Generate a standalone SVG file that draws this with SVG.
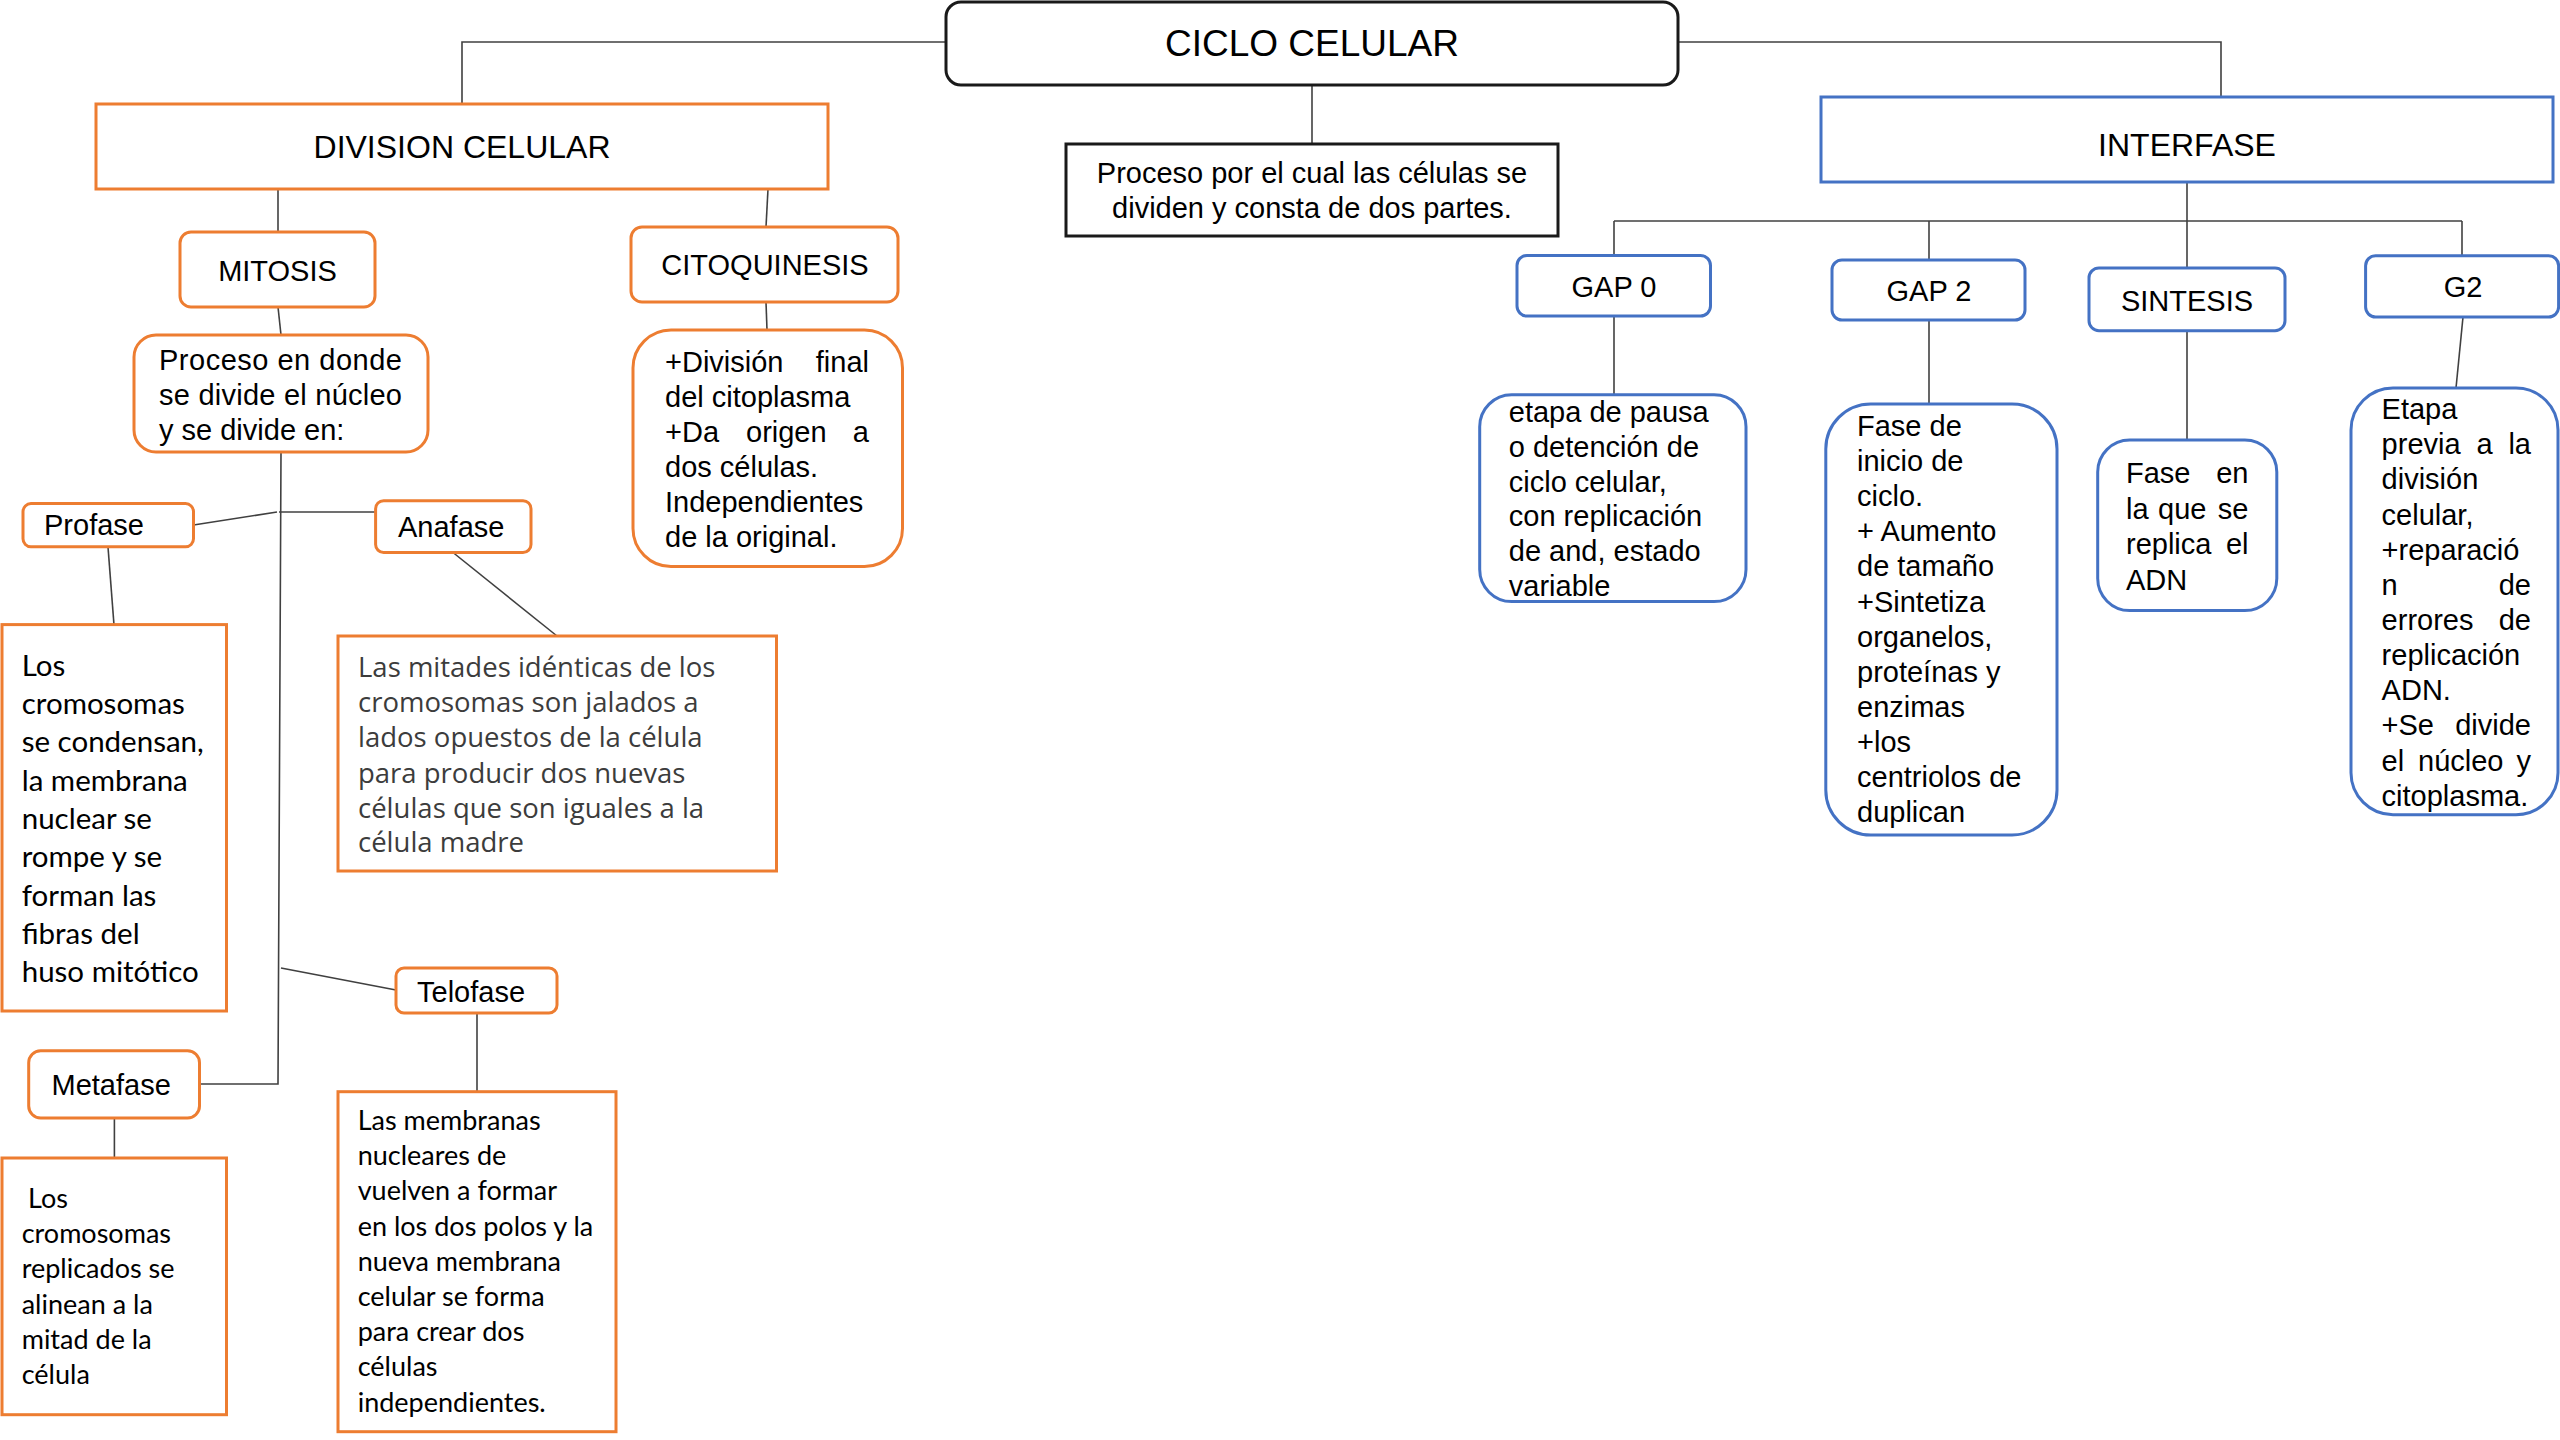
<svg xmlns="http://www.w3.org/2000/svg" width="2560" height="1440" viewBox="0 0 2560 1440">
<style>
.bg{fill:#ffffff}
.blk{fill:#fff;stroke:#1a1a1a;stroke-width:3}
.org{fill:#fff;stroke:#ED7D31;stroke-width:3}
.blu{fill:#fff;stroke:#4472C4;stroke-width:3}
.t{font-family:"Liberation Sans",Arial,sans-serif;font-size:29px;fill:#000}
.t.f37{font-size:37px}
.t.f32{font-size:32px}
.c{text-anchor:middle}
.e{text-anchor:end}
.cal{font-family:Lato,"Liberation Sans",sans-serif;fill:#000}
.seg{font-family:"Open Sans","Noto Sans",sans-serif;fill:#3c3c3c}
.ln{fill:none;stroke:#404040;stroke-width:1.6}
</style>
<rect class="bg" x="0" y="0" width="2560" height="1440"/>

<g id="connectors">
<polyline class="ln" points="462,104 462,42 946,42"/>
<polyline class="ln" points="1678,42 2221,42 2221,97"/>
<line class="ln" x1="1312" y1="85" x2="1312" y2="144"/>
<line class="ln" x1="278" y1="189" x2="278" y2="232"/>
<line class="ln" x1="768" y1="189" x2="766" y2="227"/>
<line class="ln" x1="278" y1="307" x2="281" y2="335"/>
<line class="ln" x1="766" y1="302" x2="767" y2="330"/>
<polyline class="ln" points="281,452 278,1084 199.5,1084"/>
<line class="ln" x1="279" y1="512" x2="375.6" y2="512"/>
<line class="ln" x1="193.5" y1="525" x2="277" y2="512"/>
<line class="ln" x1="108" y1="547" x2="114" y2="625"/>
<line class="ln" x1="453" y1="552.5" x2="557" y2="636"/>
<line class="ln" x1="281" y1="968" x2="396" y2="990"/>
<line class="ln" x1="477" y1="1013" x2="477" y2="1092"/>
<line class="ln" x1="114.4" y1="1118" x2="114.4" y2="1158"/>
<line class="ln" x1="2187" y1="182" x2="2187" y2="268"/>
<line class="ln" x1="1614" y1="221" x2="2462" y2="221"/>
<line class="ln" x1="1614" y1="221" x2="1614" y2="255.5"/>
<line class="ln" x1="1929" y1="221" x2="1929" y2="260"/>
<line class="ln" x1="2462" y1="221" x2="2462" y2="256"/>
<line class="ln" x1="1614" y1="316" x2="1614" y2="395"/>
<line class="ln" x1="1929" y1="320" x2="1929" y2="404"/>
<line class="ln" x1="2187" y1="331" x2="2187" y2="440"/>
<line class="ln" x1="2463" y1="317" x2="2456" y2="388"/>
</g>

<g id="ciclo-celular">
<rect class="blk" x="946" y="2" width="732" height="83" rx="15"/>
<text class="t f37 c" x="1312" y="56">CICLO CELULAR</text>
</g>

<g id="proceso-ciclo">
<rect class="blk" x="1066" y="144" width="492" height="92"/>
<text class="t c" x="1312" y="182.7">Proceso por el cual las células se</text>
<text class="t c" x="1312" y="218.3">dividen y consta de dos partes.</text>
</g>

<g id="division-celular">
<rect class="org" x="96" y="104" width="732" height="85"/>
<text class="t f32 c" x="462" y="158">DIVISION CELULAR</text>
</g>

<g id="interfase">
<rect class="blu" x="1821" y="97" width="732" height="85"/>
<text class="t f32 c" x="2187" y="156">INTERFASE</text>
</g>

<g id="mitosis">
<rect class="org" x="180" y="232" width="195" height="75" rx="11"/>
<text class="t c" x="277.5" y="281">MITOSIS</text>
</g>

<g id="citoquinesis">
<rect class="org" x="631" y="227" width="267" height="75" rx="11"/>
<text class="t c" x="765" y="275">CITOQUINESIS</text>
</g>

<g id="mitosis-desc">
<rect class="org" x="134" y="335" width="294" height="117" rx="22"/>
<text class="t" x="159" y="370" textLength="243" lengthAdjust="spacing">Proceso en donde</text>
<text class="t" x="159" y="405" textLength="243" lengthAdjust="spacing">se divide el núcleo</text>
<text class="t" x="159" y="440">y se divide en:</text>
</g>

<g id="citoquinesis-desc">
<rect class="org" x="633" y="330" width="269.5" height="236.5" rx="38"/>
<text class="t" y="371.7"><tspan x="665">+División</tspan><tspan x="869" text-anchor="end">final</tspan></text>
<text class="t" x="665" y="406.5">del citoplasma</text>
<text class="t" y="441.5"><tspan x="665">+Da</tspan><tspan x="746">origen</tspan><tspan x="869" text-anchor="end">a</tspan></text>
<text class="t" x="665" y="476.5">dos células.</text>
<text class="t" x="665" y="511.5">Independientes</text>
<text class="t" x="665" y="546.5">de la original.</text>
</g>

<g id="profase">
<rect class="org" x="23" y="503.6" width="170.5" height="43.2" rx="8"/>
<text class="t" x="44" y="535">Profase</text>
</g>

<g id="anafase">
<rect class="org" x="375.6" y="500.7" width="155.4" height="51.8" rx="8"/>
<text class="t" x="398" y="537">Anafase</text>
</g>

<g id="telofase">
<rect class="org" x="396" y="968" width="161" height="45" rx="8"/>
<text class="t" x="417" y="1002">Telofase</text>
</g>

<g id="metafase">
<rect class="org" x="28.7" y="1050.7" width="170.8" height="67.3" rx="12"/>
<text class="t" x="51.5" y="1095">Metafase</text>
</g>

<g id="profase-desc">
<rect class="org" x="2" y="624.6" width="224.5" height="386.4"/>
<g class="cal" font-size="29.5">
<text x="21.7" y="675.7">Los</text>
<text x="21.7" y="714">cromosomas</text>
<text x="21.7" y="752.3">se condensan,</text>
<text x="21.7" y="790.6">la membrana</text>
<text x="21.7" y="828.9">nuclear se</text>
<text x="21.7" y="867.2">rompe y se</text>
<text x="21.7" y="905.5">forman las</text>
<text x="21.7" y="943.8">fibras del</text>
<text x="21.7" y="982.1">huso mitótico</text>
</g>
</g>

<g id="anafase-desc">
<rect class="org" x="338" y="636" width="438.5" height="235"/>
<g class="seg" font-size="27.5">
<text x="358" y="676.7">Las mitades idénticas de los</text>
<text x="358" y="711.7">cromosomas son jalados a</text>
<text x="358" y="747">lados opuestos de la célula</text>
<text x="358" y="782.5">para producir dos nuevas</text>
<text x="358" y="817.5">células que son iguales a la</text>
<text x="358" y="852">célula madre</text>
</g>
</g>

<g id="metafase-desc">
<rect class="org" x="2" y="1158" width="224.5" height="256.7"/>
<g class="cal" font-size="27">
<text x="28" y="1208">Los</text>
<text x="21.7" y="1243.2">cromosomas</text>
<text x="21.7" y="1278.4">replicados se</text>
<text x="21.7" y="1313.6">alinean a la</text>
<text x="21.7" y="1348.8">mitad de la</text>
<text x="21.7" y="1384">célula</text>
</g>
</g>

<g id="telofase-desc">
<rect class="org" x="338" y="1091.7" width="278" height="340"/>
<g class="cal" font-size="27">
<text x="357.7" y="1130">Las membranas</text>
<text x="357.7" y="1165.2">nucleares de</text>
<text x="357.7" y="1200.4">vuelven a formar</text>
<text x="357.7" y="1235.6">en los dos polos y la</text>
<text x="357.7" y="1270.8">nueva membrana</text>
<text x="357.7" y="1306">celular se forma</text>
<text x="357.7" y="1341.2">para crear dos</text>
<text x="357.7" y="1376.4">células</text>
<text x="357.7" y="1411.6">independientes.</text>
</g>
</g>

<g id="gap0">
<rect class="blu" x="1517" y="255.5" width="193.5" height="60.5" rx="10"/>
<text class="t c" x="1614" y="296.5">GAP 0</text>
</g>

<g id="gap2">
<rect class="blu" x="1832" y="260" width="193" height="60" rx="10"/>
<text class="t c" x="1929" y="300.7">GAP 2</text>
</g>

<g id="sintesis">
<rect class="blu" x="2089" y="268" width="196" height="62.7" rx="10"/>
<text class="t c" x="2187" y="310.7">SINTESIS</text>
</g>

<g id="g2">
<rect class="blu" x="2365.6" y="255.7" width="193" height="61.3" rx="10"/>
<text class="t c" x="2463" y="296.7">G2</text>
</g>

<g id="gap0-desc">
<rect class="blu" x="1479.7" y="394.7" width="266.3" height="206.9" rx="32"/>
<text class="t" x="1508.8" y="422">etapa de pausa</text>
<text class="t" x="1508.8" y="456.8">o detención de</text>
<text class="t" x="1508.8" y="491.6">ciclo celular,</text>
<text class="t" x="1508.8" y="526.4">con replicación</text>
<text class="t" x="1508.8" y="561.2">de and, estado</text>
<text class="t" x="1508.8" y="596">variable</text>
</g>

<g id="gap2-desc">
<rect class="blu" x="1825.8" y="404" width="231.2" height="431" rx="45"/>
<text class="t" x="1857" y="436">Fase de</text>
<text class="t" x="1857" y="471.1">inicio de</text>
<text class="t" x="1857" y="506.2">ciclo.</text>
<text class="t" x="1857" y="541.3">+ Aumento</text>
<text class="t" x="1857" y="576.4">de tamaño</text>
<text class="t" x="1857" y="611.5">+Sintetiza</text>
<text class="t" x="1857" y="646.6">organelos,</text>
<text class="t" x="1857" y="681.7">proteínas y</text>
<text class="t" x="1857" y="716.8">enzimas</text>
<text class="t" x="1857" y="751.9">+los</text>
<text class="t" x="1857" y="787">centriolos de</text>
<text class="t" x="1857" y="822.1">duplican</text>
</g>

<g id="sintesis-desc">
<rect class="blu" x="2097.7" y="440" width="179.1" height="170.6" rx="32"/>
<text class="t" y="483"><tspan x="2126">Fase</tspan><tspan x="2248.5" text-anchor="end">en</tspan></text>
<text class="t" y="518.5"><tspan x="2126">la</tspan><tspan x="2158">que</tspan><tspan x="2248.5" text-anchor="end">se</tspan></text>
<text class="t" y="554"><tspan x="2126">replica</tspan><tspan x="2248.5" text-anchor="end">el</tspan></text>
<text class="t" x="2126" y="589.5">ADN</text>
</g>

<g id="g2-desc">
<rect class="blu" x="2351" y="388" width="207" height="426.7" rx="42"/>
<text class="t" x="2381.6" y="419">Etapa</text>
<text class="t" y="454.2"><tspan x="2381.6">previa</tspan><tspan x="2476.5">a</tspan><tspan x="2531" text-anchor="end">la</tspan></text>
<text class="t" x="2381.6" y="489.3">división</text>
<text class="t" x="2381.6" y="524.5">celular,</text>
<text class="t" x="2381.6" y="559.6">+reparació</text>
<text class="t" y="594.8"><tspan x="2381.6">n</tspan><tspan x="2531" text-anchor="end">de</tspan></text>
<text class="t" y="629.9"><tspan x="2381.6">errores</tspan><tspan x="2531" text-anchor="end">de</tspan></text>
<text class="t" x="2381.6" y="665">replicación</text>
<text class="t" x="2381.6" y="700.2">ADN.</text>
<text class="t" y="735.4"><tspan x="2381.6">+Se</tspan><tspan x="2531" text-anchor="end">divide</tspan></text>
<text class="t" y="770.5"><tspan x="2381.6">el</tspan><tspan x="2418">núcleo</tspan><tspan x="2531" text-anchor="end">y</tspan></text>
<text class="t" x="2381.6" y="805.7">citoplasma.</text>
</g>
</svg>
